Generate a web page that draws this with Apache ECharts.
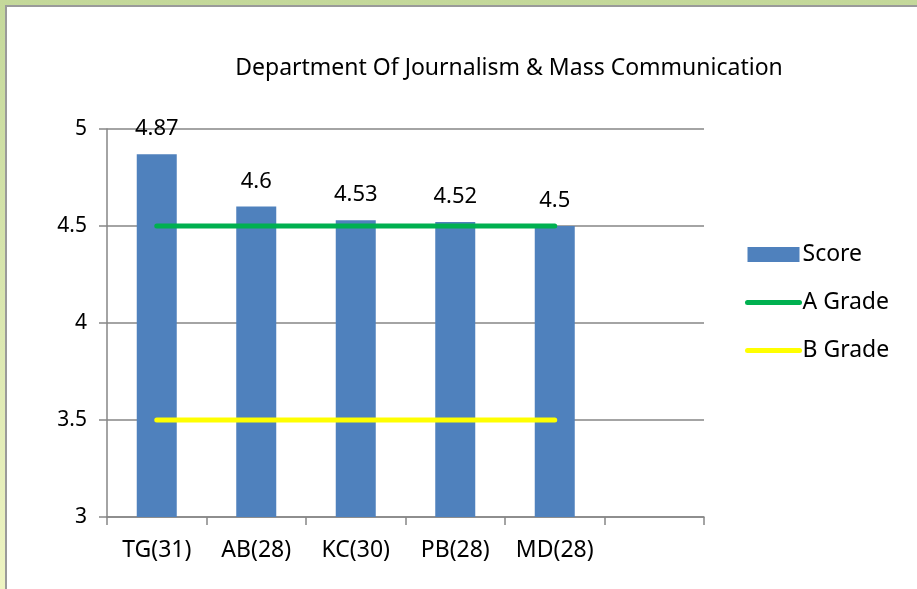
<!DOCTYPE html>
<html>
<head>
<meta charset="utf-8">
<script src="https://cdn.jsdelivr.net/npm/echarts@6/dist/echarts.min.js"></script>
<style>
    html, body { margin: 0; padding: 0; }
    #frame {
        position: absolute; left: 0; top: 0; width: 917px; height: 589px;
        background: linear-gradient(to bottom, #c4d89a, #eef4c2);
    }
    #char1 {
        position: absolute; left: 5px; top: 5px; width: 912px; height: 584px;
        background: #ffffff;
        border-left: 2px solid #9a9a9a; border-top: 2px solid #9a9a9a;
        box-sizing: border-box;
    }
</style>
</head>
<body>
<div id="frame"><div id="char1"></div></div>
<script>
var categories = ["TG(31)", "AB(28)", "KC(30)", "PB(28)", "MD(28)", ""];
var scores = [4.87, 4.6, 4.53, 4.52, 4.5];
var aGrade = [4.5, 4.5, 4.5, 4.5, 4.5];
var bGrade = [3.5, 3.5, 3.5, 3.5, 3.5];

var fontName = "Noto Sans";

function char1() {
    var myChart = echarts.init(document.getElementById("char1"));

    var option = {
        animation: false,
        title: {
            text: "Department Of Journalism & Mass Communication",
            left: 497,
            top: 45,
            textAlign: "center",
            textStyle: {
                fontFamily: fontName,
                fontSize: 23,
                fontWeight: "normal",
                color: "#000000",
            },
        },
        legend: {
            orient: "vertical",
            left: 733,
            top: 231,
            itemWidth: 52,
            itemHeight: 15,
            itemGap: 25,
            textStyle: {
                fontFamily: fontName,
                fontSize: 23,
                color: "#000000",
                padding: [0, 0, 0, -2],
            },
            data: [
                { name: "Score", icon: "rect" },
                { name: "A Grade", itemStyle: { opacity: 0 }, lineStyle: { width: 5, cap: "round" } },
                { name: "B Grade", itemStyle: { opacity: 0 }, lineStyle: { width: 5, cap: "round" } },
            ],
        },
        grid: {
            left: 100,
            right: 213,
            top: 122,
            bottom: 72,
        },
        xAxis: {
            type: "category",
            data: categories,
            axisLine: { lineStyle: { color: "#868686", width: 1.5 } },
            axisTick: { show: true, length: 8, interval: 0, lineStyle: { color: "#868686", width: 1.5 } },
            axisLabel: {
                interval: 0,
                margin: 22,
                fontFamily: fontName,
                fontSize: 23,
                color: "#000000",
            },
        },
        yAxis: {
            type: "value",
            min: 3,
            max: 5,
            interval: 0.5,
            axisLine: { show: true, lineStyle: { color: "#868686", width: 1.5 } },
            axisTick: { show: true, length: 8, lineStyle: { color: "#868686", width: 1.5 } },
            axisLabel: {
                margin: 20,
                fontFamily: fontName,
                fontSize: 21,
                color: "#000000",
            },
            splitLine: { show: true, lineStyle: { color: "#868686", width: 1.5 } },
        },
        series: [
            {
                name: "Score",
                type: "bar",
                data: scores,
                barWidth: 40,
                itemStyle: { color: "#4f81bd" },
                label: {
                    show: true,
                    position: "top",
                    distance: 14,
                    fontFamily: fontName,
                    fontSize: 22,
                    color: "#000000",
                },
            },
            {
                name: "A Grade",
                type: "line",
                data: aGrade,
                symbol: "none",
                itemStyle: { color: "#00b050" },
                lineStyle: { color: "#00b050", width: 5, cap: "round" },
            },
            {
                name: "B Grade",
                type: "line",
                data: bGrade,
                symbol: "none",
                itemStyle: { color: "#ffff00" },
                lineStyle: { color: "#ffff00", width: 5, cap: "round" },
            },
        ],
    };

    myChart.setOption(option);
    window.addEventListener("resize", function () {
        myChart.resize();
    });
}

char1();
</script>
</body>
</html>
